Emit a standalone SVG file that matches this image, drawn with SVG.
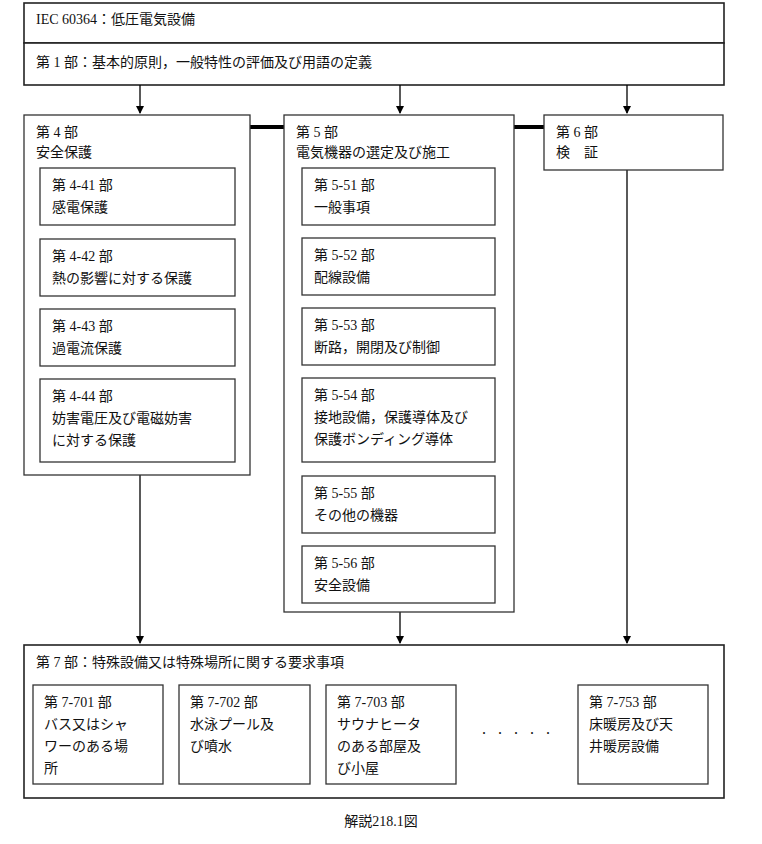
<svg xmlns="http://www.w3.org/2000/svg" width="762" height="844" viewBox="0 0 762 844">
<defs><marker id="ah" markerWidth="8" markerHeight="8" refX="7" refY="4" orient="auto" markerUnits="userSpaceOnUse"><path d="M0,0 L8,4 L0,8 z" fill="#000"/></marker></defs>
<style>
rect{fill:#fff;stroke:#333;stroke-width:1.3}
.o{stroke:#222;stroke-width:1.6}
text{font-family:"Liberation Serif","Noto Sans CJK JP",serif;font-size:14px;fill:#111}
.c line{stroke:#000;stroke-width:1.3}
</style>
<g id="top"><rect class="o" x="24" y="3" width="700" height="40"/><text x="36" y="24">IEC 60364：低圧電気設備</text></g>
<g id="p1"><rect class="o" x="24" y="43" width="700" height="42"/><text x="36" y="67">第 1 部：基本的原則，一般特性の評価及び用語の定義</text></g>
<g class="c" id="connectors">
<line x1="140" y1="85" x2="140" y2="113" marker-end="url(#ah)"/>
<line x1="400" y1="85" x2="400" y2="113" marker-end="url(#ah)"/>
<line x1="627" y1="85" x2="627" y2="113" marker-end="url(#ah)"/>
<line x1="250" y1="127" x2="284" y2="127" style="stroke-width:4"/>
<line x1="514" y1="127" x2="544" y2="127" style="stroke-width:4"/>
<line x1="140" y1="475" x2="140" y2="643" marker-end="url(#ah)"/>
<line x1="400" y1="612" x2="400" y2="643" marker-end="url(#ah)"/>
<line x1="627" y1="170" x2="627" y2="643" marker-end="url(#ah)"/>
</g>
<g id="p4"><rect x="24" y="115" width="226" height="360"/><text x="36" y="137">第 4 部</text><text x="36" y="157">安全保護</text></g>
<g id="p441"><rect x="40" y="168" width="195" height="57"/><text x="52" y="190">第 4-41 部</text><text x="52" y="212">感電保護</text></g>
<g id="p442"><rect x="40" y="239" width="195" height="57"/><text x="52" y="261">第 4-42 部</text><text x="52" y="283">熱の影響に対する保護</text></g>
<g id="p443"><rect x="40" y="309" width="195" height="57"/><text x="52" y="331">第 4-43 部</text><text x="52" y="353">過電流保護</text></g>
<g id="p444"><rect x="40" y="379" width="195" height="83"/><text x="52" y="401">第 4-44 部</text><text x="52" y="423">妨害電圧及び電磁妨害</text><text x="52" y="445">に対する保護</text></g>
<g id="p5"><rect x="284" y="115" width="230" height="497"/><text x="296" y="137">第 5 部</text><text x="296" y="157">電気機器の選定及び施工</text></g>
<g id="p551"><rect x="302" y="168" width="193" height="57"/><text x="314" y="190">第 5-51 部</text><text x="314" y="212">一般事項</text></g>
<g id="p552"><rect x="302" y="238" width="193" height="57"/><text x="314" y="260">第 5-52 部</text><text x="314" y="282">配線設備</text></g>
<g id="p553"><rect x="302" y="308" width="193" height="57"/><text x="314" y="330">第 5-53 部</text><text x="314" y="352">断路，開閉及び制御</text></g>
<g id="p554"><rect x="302" y="378" width="193" height="84"/><text x="314" y="400">第 5-54 部</text><text x="314" y="422">接地設備，保護導体及び</text><text x="314" y="444">保護ボンディング導体</text></g>
<g id="p555"><rect x="302" y="476" width="193" height="57"/><text x="314" y="498">第 5-55 部</text><text x="314" y="520">その他の機器</text></g>
<g id="p556"><rect x="302" y="546" width="193" height="57"/><text x="314" y="568">第 5-56 部</text><text x="314" y="590">安全設備</text></g>
<g id="p6"><rect x="544" y="115" width="179" height="55"/><text x="556" y="137">第 6 部</text><text x="556" y="157">検　証</text></g>
<g id="p7"><rect class="o" x="24" y="645" width="700" height="153"/><text x="36" y="667">第 7 部：特殊設備又は特殊場所に関する要求事項</text></g>
<g id="p7701"><rect x="33" y="685" width="130" height="99"/><text x="44" y="707">第 7-701 部</text><text x="44" y="729">バス又はシャ</text><text x="44" y="751">ワーのある場</text><text x="44" y="773">所</text></g>
<g id="p7702"><rect x="179" y="685" width="131" height="99"/><text x="190" y="707">第 7-702 部</text><text x="190" y="729">水泳プール及</text><text x="190" y="751">び噴水</text></g>
<g id="p7703"><rect x="326" y="685" width="130" height="99"/><text x="337" y="707">第 7-703 部</text><text x="337" y="729">サウナヒータ</text><text x="337" y="751">のある部屋及</text><text x="337" y="773">び小屋</text></g>
<text x="482" y="734" style="font-size:16px;letter-spacing:4px">. . . . .</text>
<g id="p7753"><rect x="578" y="685" width="130" height="99"/><text x="589" y="707">第 7-753 部</text><text x="589" y="729">床暖房及び天</text><text x="589" y="751">井暖房設備</text></g>
<text x="381" y="826" text-anchor="middle">解説218.1図</text>
</svg>
